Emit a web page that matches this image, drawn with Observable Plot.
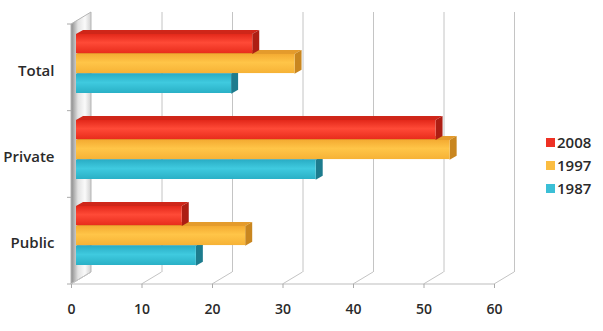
<!DOCTYPE html>
<html><head><meta charset="utf-8">
<script src="https://cdn.jsdelivr.net/npm/d3@7"></script>
<script src="https://cdn.jsdelivr.net/npm/@observablehq/plot@0.6"></script>
<style>
body{margin:0;background:#fff;}
#wrap{position:relative;width:603px;height:331px;font-family:"Open Sans",Lato,sans-serif;}
#wrap svg{position:absolute;left:0;top:0;}
.legend{position:absolute;left:546px;top:131px;font-size:15px;font-weight:600;color:#2a2a2a;line-height:23px;}
.legend div{display:flex;align-items:center;height:23px;}
.legend .sw{display:inline-block;width:9px;height:9px;margin-right:2px;}
</style></head><body><div id="wrap"></div>
<script>
const categories = ["Total", "Private", "Public"];
const series = ["2008", "1997", "1987"];
const values2008 = [25, 51, 15];
const values1997 = [31, 53, 24];
const values1987 = [22, 34, 17];
const xTicks = [0, 10, 20, 30, 40, 50, 60];
const frontColors = {"2008": ["#e3281a", "#ff4a37", "#e82c1c"], "1997": ["#f4ab32", "#ffc548", "#f6b236"], "1987": ["#2aaec6", "#3fcadf", "#2ab0c6"]};
const topColors = {"2008": "#cf2619", "1997": "#e49b2c", "1987": "#2797ab"};
const sideColors = {"2008": "#ad1e13", "1997": "#c9861f", "1987": "#1d7c8e"};
const legendColors = {"2008": "#ee3124", "1997": "#fbbd41", "1987": "#3bbfd6"};

const valuesBySeries = {"2008": values2008, "1997": values1997, "1987": values1987};
const data = series.flatMap(s => categories.map((c, i) => ({category: c, series: s, value: valuesBySeries[s][i]})));

// layout
const W = 603, H = 331, mL = 71, mR = 109, mT = 24, mB = 47;
const padIn = 0.31, padOut = 0.155;
const step = (H - mT - mB) / (categories.length - padIn + 2 * padOut);
const bw = step * (1 - padIn);
const sub = bw / series.length;
const BX = 5, BY = -4;   // bar plane offset
const DX = 7, DY = -4;   // bar depth
const WX = 20, WY = -12; // wall depth

function defs() {
  const g = d3.create("svg:defs");
  for (const s of series) {
    const lg = g.append("linearGradient").attr("id", "grad" + s).attr("x1", 0).attr("y1", 0).attr("x2", 0).attr("y2", 1);
    const c = frontColors[s];
    lg.append("stop").attr("offset", "0%").attr("stop-color", c[0]);
    lg.append("stop").attr("offset", "45%").attr("stop-color", c[1]);
    lg.append("stop").attr("offset", "100%").attr("stop-color", c[2]);
  }
  const wg = g.append("linearGradient").attr("id", "wallGrad").attr("x1", 0).attr("y1", 0).attr("x2", 1).attr("y2", 0);
  wg.append("stop").attr("offset", "0%").attr("stop-color", "#8a8a8a");
  wg.append("stop").attr("offset", "35%").attr("stop-color", "#e2e2e2");
  wg.append("stop").attr("offset", "70%").attr("stop-color", "#fafafa");
  wg.append("stop").attr("offset", "100%").attr("stop-color", "#d0d0d0");
  return g.node();
}

function wall(index, {x}) {
  const g = d3.create("svg:g");
  const x0 = x(0), yb = H - mB;
  g.append("path")
    .attr("d", `M${x0},${mT}L${x0 + WX},${mT + WY}L${x0 + WX},${yb + WY}L${x0},${yb}Z`)
    .attr("fill", "url(#wallGrad)").attr("stroke", "#b5b5b5");
  for (const t of xTicks) {
    g.append("line").attr("x1", x(t)).attr("y1", yb).attr("x2", x(t) + WX).attr("y2", yb + WY)
      .attr("stroke", "#c4c4c4");
  }
  g.append("line").attr("x1", x(0)).attr("y1", yb).attr("x2", x(60)).attr("y2", yb).attr("stroke", "#bdbdbd");
  for (let k = 0; k <= categories.length; k++) {
    const yy = mT + k * step;
    g.append("line").attr("x1", x0 - 4).attr("y1", yy).attr("x2", x0).attr("y2", yy).attr("stroke", "#aaa");
  }
  return g.node();
}

function extrusion(j) {
  const s = series[j];
  const rows = data.filter(d => d.series === s);
  return (index, {x, y}) => {
    const g = d3.create("svg:g");
    for (const d of rows) {
      const x0 = x(0) + BX, x1 = x(d.value) + BX;
      const yt = y(d.category) + j * sub + BY, yb = yt + sub;
      g.append("path").attr("d", `M${x0},${yt}L${x1},${yt}L${x1 + DX},${yt + DY}L${x0 + DX},${yt + DY}Z`).attr("fill", topColors[s]);
      g.append("path").attr("d", `M${x1},${yt}L${x1 + DX},${yt + DY}L${x1 + DX},${yb + DY}L${x1},${yb}Z`).attr("fill", sideColors[s]);
    }
    return g.node();
  };
}

const barMarks = [];
for (let j = series.length - 1; j >= 0; j--) {
  const s = series[j];
  barMarks.push(extrusion(j));
  barMarks.push(Plot.barX(data.filter(d => d.series === s), {
    x: "value", y: "category", fill: `url(#grad${s})`,
    dx: BX, dy: BY, insetTop: j * sub, insetBottom: (series.length - 1 - j) * sub
  }));
}

const plot = Plot.plot({
  width: W, height: H,
  marginLeft: mL, marginRight: mR, marginTop: mT, marginBottom: mB,
  style: {fontFamily: "'Open Sans', Lato, sans-serif", fontWeight: 600, color: "#2a2a2a", background: "transparent"},
  x: {domain: [0, 60], label: null},
  y: {domain: categories, paddingInner: padIn, paddingOuter: padOut, label: null},
  marks: [
    defs,
    wall,
    Plot.ruleX(xTicks.slice(1), {stroke: "#c4c4c4", dx: WX, dy: WY}),
    ...barMarks,
    Plot.axisX({ticks: xTicks, tickSize: 4, tickPadding: 16, fontSize: 14, stroke: "#aaa", fill: "#2a2a2a", label: null}),
    Plot.axisY({tickSize: 0, tickPadding: 17, fontSize: 15, dy: 3, fill: "#2a2a2a", label: null})
  ]
});

const wrap = document.getElementById("wrap");
wrap.appendChild(plot);
const legend = document.createElement("div");
legend.className = "legend";
for (const s of series) {
  const row = document.createElement("div");
  const sw = document.createElement("span");
  sw.className = "sw";
  sw.style.background = legendColors[s];
  row.appendChild(sw);
  row.appendChild(document.createTextNode(s));
  legend.appendChild(row);
}
wrap.appendChild(legend);
</script>
</body></html>
